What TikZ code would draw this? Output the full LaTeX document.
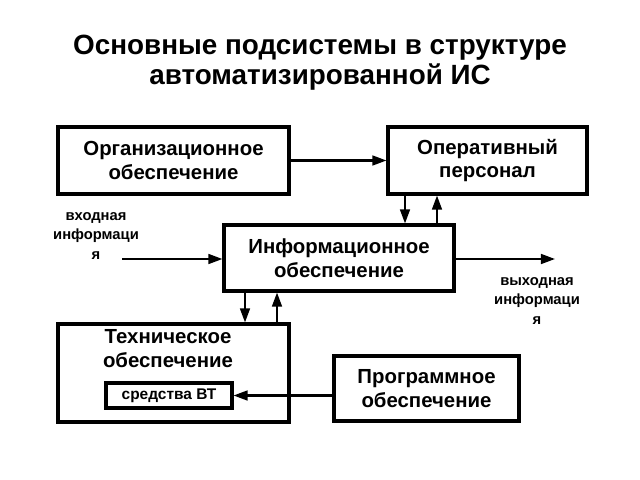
\documentclass[tikz,border=0pt]{standalone}
\usepackage{fontspec}
\setmainfont{Liberation Sans}
\usetikzlibrary{arrows.meta,positioning,calc}
\newcommand{\boxlw}{2.2pt}
\newcommand{\arrlw}{1.5pt}
\tikzset{
  blok/.style={draw, line width=\boxlw, align=center, inner sep=0pt,
    font=\bfseries\fontsize{14.5}{17}\selectfont},
  strelka/.style={line width=\arrlw, -{Triangle[length=10pt,width=7pt]}},
  podpis/.style={align=center, font=\bfseries\fontsize{10.5}{14}\selectfont}
}

\begin{document}
\begin{tikzpicture}[x=0.025cm,y=-0.025cm]
  \useasboundingbox (0,0) rectangle (640,480);
  % title
  \node[align=center, font=\bfseries\fontsize{19.8}{21.5}\selectfont] (title) at (320,63)
    {Основные подсистемы в структуре\\автоматизированной ИС};
  % blocks
  \node[blok, minimum width=5.775cm, minimum height=1.675cm] (org) at (173.5,160.5)
    {Организационное\\обеспечение};
  \node[blok, minimum width=4.975cm, minimum height=1.675cm] (oper) at (487.5,160.5)
    {Оперативный\\персонал};
  \node[blok, minimum width=5.75cm, minimum height=1.65cm] (info) at (339,258)
    {Информационное\\обеспечение};
  \node[blok, minimum width=5.775cm, minimum height=2.45cm] (tech) at (173.5,373) {};
  \node[align=center, font=\bfseries\fontsize{14.5}{17}\selectfont] (techtxt) at (168,348.5)
    {Техническое\\обеспечение};
  \node[draw, line width=\boxlw, minimum width=3.15cm, minimum height=0.625cm, inner sep=0pt,
    font=\bfseries\fontsize{11}{12}\selectfont] (vt) at (169,395.5) {средства ВТ};
  \node[blok, minimum width=4.625cm, minimum height=1.625cm] (prog) at (426.5,388.5)
    {Программное\\обеспечение};
  % free ends and vertical lines
  \coordinate (inend) at (122,259);
  \coordinate (outend) at (555,259);
  \coordinate (x1) at (405,0);
  \coordinate (x2) at (437,0);
  \coordinate (x3) at (245,0);
  \coordinate (x4) at (277,0);
  \node[podpis] (inlbl) at (96,236) {входная\\информаци\\я};
  \node[podpis] (outlbl) at (537,301) {выходная\\информаци\\я};
  % connectors
  \draw[strelka] (org) -- (oper);
  \draw[strelka] (oper.south -| x1) -- (info.north -| x1);
  \draw[strelka] (info.north -| x2) -- (oper.south -| x2);
  \draw[strelka] (info.south -| x3) -- (tech.north -| x3);
  \draw[strelka] (tech.north -| x4) -- (info.south -| x4);
  \draw[strelka] (inend) -- (info.west |- inend);
  \draw[strelka] (info.east |- outend) -- (outend);
  \draw[strelka] (prog.west |- vt) -- (vt.east);
\end{tikzpicture}
\end{document}
